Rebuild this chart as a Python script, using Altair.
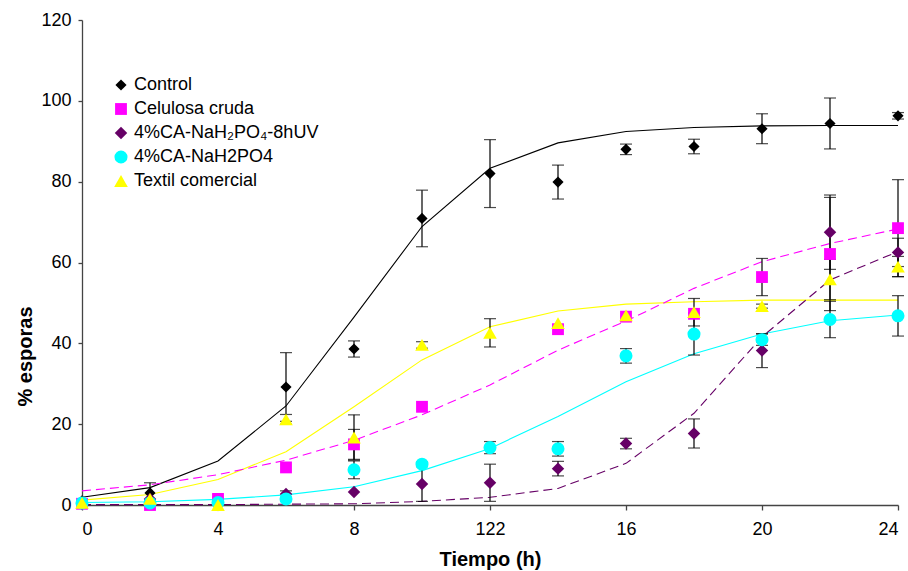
import altair as alt
import pandas as pd

hours = [0, 2, 4, 6, 8, 10, 12, 14, 16, 18, 20, 22, 24]

names = ["Control", "\u00a0Celulosa cruda", "4%CA-NaH₂PO₄-8hUV", "4%CA-NaH2PO4", "Textil comercial"]
colors = ["#000000", "#FF00FF", "#660066", "#00FFFF", "#FFFF00"]
shapes = ["diamond", "square", "diamond", "circle", "triangle-up"]
sizes = [125, 185, 125, 62, 115]

control = [1.0, 3.0, None, 29.2, 38.6, 70.9, 82.0, 79.9, 88.0, 88.7, 93.1, 94.4, 96.3]
control_err = [0, 2.5, 0, 8.5, 2.0, 7.0, 8.4, 4.2, 1.3, 1.8, 3.7, 6.3, 0.8]
control_fit = [1.9, 4.3, 10.9, 24.5, 46.5, 68.9, 83.3, 89.6, 92.4, 93.4, 93.8, 93.9, 93.9]

celulosa = [0.3, 0.0, 1.5, 9.3, 15.0, 24.3, None, 43.5, 46.6, 47.3, 56.4, 62.1, 68.5]
celulosa_err = [0, 0, 0, 0, 3.7, 0, 0, 0, 0, 0, 4.6, 14.0, 12.0]
celulosa_fit = [3.5, 5.0, 7.5, 11.1, 16.0, 22.3, 29.7, 38.3, 45.5, 53.6, 60.2, 64.7, 68.3]

uv = [0.3, 1.5, 0.0, 2.7, 3.2, 5.2, 5.5, 9.0, 15.2, 17.7, 38.2, 67.5, 62.5]
uv_err = [0, 0, 0, 0.8, 0, 4.3, 4.6, 1.8, 1.3, 3.6, 4.2, 9.2, 3.5]
uv_fit = [0.1, 0.1, 0.1, 0.2, 0.3, 0.9, 1.9, 4.1, 10.3, 22.7, 41.6, 55.7, 62.7]

cyan = [0.5, 0.5, 0.6, 1.5, 8.7, 10.1, 14.2, 13.9, 36.9, 42.3, 40.9, 45.9, 46.8]
cyan_err = [0, 0, 0, 0, 2.2, 0.5, 1.5, 1.8, 1.8, 5.2, 1.4, 4.5, 5.0]
cyan_fit = [0.6, 0.8, 1.4, 2.5, 4.5, 8.5, 14.0, 21.9, 30.5, 37.4, 42.3, 45.6, 47.0]

textil = [0.5, 1.5, 0.0, 21.2, 16.7, 39.6, 42.6, 45.0, 46.9, 47.7, 49.2, 55.8, 59.0]
textil_err = [0, 0, 0, 1.2, 5.6, 0.8, 3.5, 0, 0, 3.4, 0.5, 5.0, 2.5]
textil_fit = [1.2, 2.6, 6.3, 13.2, 24.3, 35.9, 44.1, 48.0, 49.7, 50.3, 50.7, 50.7, 50.7]

values = [control, celulosa, uv, cyan, textil]
errors = [control_err, celulosa_err, uv_err, cyan_err, textil_err]
fits = [control_fit, celulosa_fit, uv_fit, cyan_fit, textil_fit]
dashed = [False, True, True, False, False]

pts, errs, lines = [], [], []
for i, name in enumerate(names):
    for h, v, e, f in zip(hours, values[i], errors[i], fits[i]):
        lines.append({"serie": name, "t": h, "fit": f, "col": colors[i], "dash": dashed[i], "order": i})
        if v is not None:
            pts.append({"serie": name, "t": h, "v": v, "order": i})
            if e > 0:
                errs.append({"serie": name, "t": h, "lo": v - e, "hi": v + e})

df_pts = pd.DataFrame(pts)
df_err = pd.DataFrame(errs)
df_lines = pd.DataFrame(lines)

xscale = alt.Scale(domain=[0, 24], nice=False, zero=False)
yscale = alt.Scale(domain=[0, 120], nice=False)

xaxis = alt.Axis(values=[0, 4, 8, 12, 16, 20, 24], grid=False, title="Tiempo (h)",
                 labelExpr="datum.value == 12 ? '122' : datum.label",
                 tickSize=5, labelPadding=10, titleY=60, titleBaseline="alphabetic")
yaxis = alt.Axis(values=[0, 20, 40, 60, 80, 100, 120], grid=False, title="% esporas",
                 tickSize=4, labelPadding=7, titleX=-51, titleY=336,
                 titleBaseline="alphabetic", titleAlign="center", titleAngle=270)

x = alt.X("t:Q", scale=xscale, axis=xaxis)
y_fit = alt.Y("fit:Q", scale=yscale, axis=yaxis)

solid = alt.Chart(df_lines).transform_filter("!datum.dash").mark_line(strokeWidth=1.1).encode(
    x=x, y=y_fit, color=alt.Color("col:N", scale=None), detail="serie:N", order="t:Q")
dash = alt.Chart(df_lines).transform_filter("datum.dash").mark_line(strokeWidth=1.1, strokeDash=[9, 5]).encode(
    x=x, y=y_fit, color=alt.Color("col:N", scale=None), detail="serie:N", order="t:Q")

rules = alt.Chart(df_err).mark_rule(color="#000000", strokeWidth=1.2).encode(
    x=alt.X("t:Q", scale=xscale), y=alt.Y("lo:Q", scale=yscale), y2="hi:Q")
cap_lo = alt.Chart(df_err).mark_tick(color="#000000", orient="horizontal", size=12, thickness=1.2).encode(
    x=alt.X("t:Q", scale=xscale), y=alt.Y("lo:Q", scale=yscale))
cap_hi = alt.Chart(df_err).mark_tick(color="#000000", orient="horizontal", size=12, thickness=1.2).encode(
    x=alt.X("t:Q", scale=xscale), y=alt.Y("hi:Q", scale=yscale))

points = alt.Chart(df_pts).mark_point(filled=True, opacity=1, strokeWidth=0).encode(
    x=alt.X("t:Q", scale=xscale),
    y=alt.Y("v:Q", scale=yscale),
    color=alt.Color("serie:N", scale=alt.Scale(domain=names, range=colors), title=None,
                    legend=alt.Legend(orient="none", legendX=30, legendY=56)),
    shape=alt.Shape("serie:N", scale=alt.Scale(domain=names, range=shapes), title=None),
    size=alt.Size("serie:N", scale=alt.Scale(domain=names, range=sizes), title=None),
    order=alt.Order("order:Q"),
)

chart = alt.layer(solid, dash, rules, cap_lo, cap_hi, points).properties(
    width=816, height=485,
    autosize=alt.AutoSizeParams(type="none"),
    padding={"left": 82, "top": 20, "right": 10, "bottom": 66},
).configure_view(stroke=None).configure_axis(
    labelFont="Liberation Sans", labelFontSize=18, labelColor="#000000",
    titleFont="Liberation Sans", titleFontSize=20, titleFontWeight="bold", titleColor="#000000",
    domainColor="#444444", tickColor="#444444", domainWidth=1.3, tickWidth=1.3,
).configure_legend(
    labelFont="Liberation Sans", labelFontSize=18, labelColor="#000000",
    labelLimit=400, rowPadding=6, labelOffset=4, symbolStrokeWidth=0,
)

chart.save("out.html", embed_options={"renderer": "svg", "actions": False})
